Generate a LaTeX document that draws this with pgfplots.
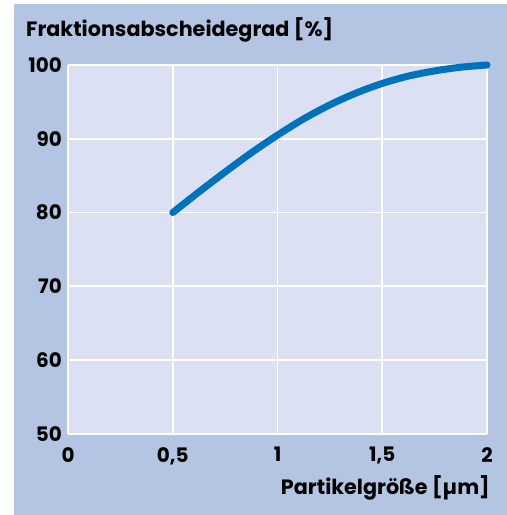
\documentclass[border=0pt]{standalone}
\usepackage{fontspec}
\setmainfont{Poppins}[BoldFont=Poppins Bold]
\usepackage{pgfplots}
\pgfplotsset{compat=1.18}
\definecolor{outerbg}{HTML}{B4C5E4}
\definecolor{plotbg}{HTML}{DBE1F2}
\definecolor{curve}{HTML}{0072BC}
\newcommand{\lbl}{\bfseries\fontsize{20}{24}\selectfont}
\newcommand{\ttl}{\bfseries\fontsize{20.8}{24}\selectfont}
\begin{document}
\begin{tikzpicture}[x=1bp,y=1bp]
\useasboundingbox (0,0) rectangle (507,515);
\fill[outerbg] (14,0) rectangle (507,511);
\node[anchor=base west,inner sep=0,font=\ttl] at (26,478) {Fraktionsabscheidegrad [\%]};
\begin{axis}[
  at={(68bp,81bp)}, anchor=south west,
  scale only axis, width=419bp, height=369bp,
  xmin=0, xmax=2, ymin=50, ymax=100,
  xtick={0,0.5,1,1.5,2}, xticklabels={0,{0,5},1,{1,5},2},
  ytick={50,60,70,80,90,100},
  axis background/.style={fill=plotbg},
  axis line style={draw=none},
  major tick length=0pt,
  grid=major,
  major grid style={white, line width=1.8bp},
  tick label style={font=\lbl},
  /pgf/number format/assume math mode=true,
  yticklabel style={anchor=east, inner sep=0pt, xshift=-6bp},
  xticklabel style={anchor=north, inner sep=0pt, yshift=-13bp},
  clip=false,
]
\addplot[curve, line width=7bp, line cap=round, smooth, tension=0.5] coordinates {
(0.5,80) (0.625,82.8) (0.75,85.5) (0.875,88.1) (1,90.5) (1.125,92.7) (1.25,94.6) (1.375,96.2) (1.5,97.5) (1.625,98.5) (1.75,99.2) (1.875,99.7) (2,100)
};
\end{axis}
\node[anchor=base east,inner sep=0,font=\ttl] at (490,20) {Partikelgröße [µm]};
\end{tikzpicture}
\end{document}
